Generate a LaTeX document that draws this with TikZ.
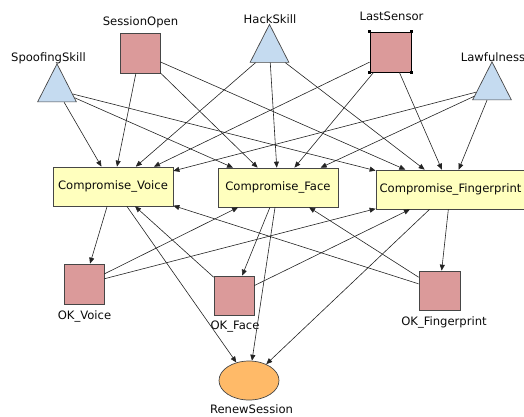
\documentclass[tikz,border=0pt]{standalone}
\usepackage{fontspec}
\setmainfont{DejaVu Sans}
\usetikzlibrary{shapes.geometric,arrows.meta}
\definecolor{sqfill}{RGB}{219,154,154}
\definecolor{trifill}{RGB}{197,219,240}
\definecolor{boxfill}{RGB}{255,255,190}
\definecolor{ellfill}{RGB}{255,186,104}
\definecolor{bord}{RGB}{70,70,70}
\definecolor{edgecol}{RGB}{35,35,35}
\definecolor{txt}{RGB}{10,10,10}
\tikzset{
  sqnode/.style={draw=bord, fill=sqfill, line width=0.7pt, minimum width=40pt, minimum height=40pt, inner sep=0pt},
  trinode/.style={draw=bord, fill=trifill, line width=0.7pt, isosceles triangle, shape border rotate=90, isosceles triangle apex angle=54, minimum width=38pt, minimum height=38pt, inner sep=0pt},
  cbox/.style={draw=bord, fill=boxfill, line width=0.7pt, minimum height=39pt, inner sep=0pt, text=txt, font=\fontsize{11.6}{13}\selectfont},
  ellnode/.style={draw=bord, fill=ellfill, line width=0.7pt, ellipse, minimum width=60pt, minimum height=39pt, inner sep=0pt},
  lbl/.style={text=txt, inner sep=0pt, font=\fontsize{11.6}{13}\selectfont},
  edge/.style={draw=edgecol, line width=0.6pt, -{Triangle[length=6pt,width=5pt]}}
}
\begin{document}
\begin{tikzpicture}[x=1pt,y=-1pt]
\useasboundingbox (0,0) rectangle (524,416);
% nodes
\node[trinode] (spoof) at (57,90) {};
\node[sqnode] (sess) at (140,53) {};
\node[trinode] (hack) at (269.5,50.5) {};
\node[sqnode, draw=black, line width=1pt, minimum width=41pt] (last) at (390.5,52) {};
\node[trinode] (law) at (492,88) {};
\node[cbox, minimum width=120pt] (cv) at (113,186.5) {Compromise\_Voice};
\node[cbox, minimum width=120pt] (cf) at (278,187.5) {Compromise\_Face};
\node[cbox, minimum width=149pt] (cfp) at (450.5,189.5) {Compromise\_Fingerprint};
\node[sqnode] (okv) at (84,284) {};
\node[sqnode, minimum height=39pt] (okf) at (234,295.5) {};
\node[sqnode, minimum width=41pt, minimum height=39pt] (okfp) at (439.5,290.5) {};
\node[ellnode] (rs) at (249,380.5) {};
% corner handles
\foreach \a in {north west,north east,south west,south east}
  \fill[black] (last.\a) ++(-1.8,-1.8) rectangle ++(3.6,3.6);
% labels
\node[lbl] (lspoof) at (48.5,58) {SpoofingSkill};
\node[lbl] (lsess) at (140.5,22) {SessionOpen};
\node[lbl] (lhack) at (270,19) {HackSkill};
\node[lbl] (llast) at (391.5,16.5) {LastSensor};
\node[lbl] (llaw) at (493,57) {Lawfulness};
\node[lbl] (lokv) at (84.5,316) {OK\_Voice};
\node[lbl] (lokf) at (235,327) {OK\_Face};
\node[lbl] (lokfp) at (444,322) {OK\_Fingerprint};
\node[lbl] (lrs) at (251.5,409.5) {RenewSession};
% edges
\foreach \p in {spoof,sess,hack,last,law}
  \foreach \c in {cv,cf,cfp}
    \draw[edge] (\p) -- (\c);
\draw[edge] (cv) -- (okv);
\draw[edge] (cf) -- (okf);
\draw[edge] (cfp) -- (okfp);
\draw[edge] (okv) -- (cf);
\draw[edge] (okv) -- (cfp);
\draw[edge] (okf) -- (cv);
\draw[edge] (okf) -- (cfp);
\draw[edge] (okfp) -- (cv);
\draw[edge] (okfp) -- (cf);
\draw[edge] (cv) -- (rs);
\draw[edge] (cf) -- (rs);
\draw[edge] (cfp) -- (rs);
\end{tikzpicture}
\end{document}
